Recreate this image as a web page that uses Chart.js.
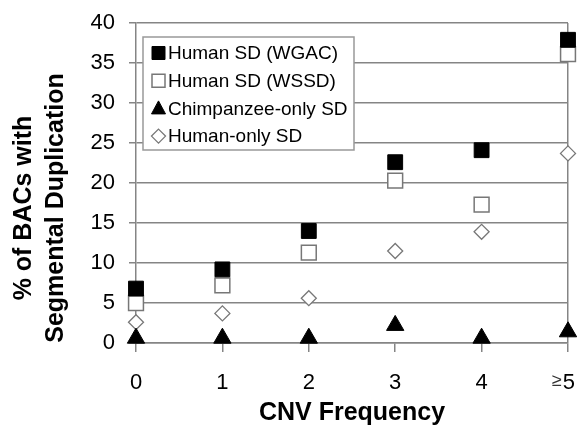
<!DOCTYPE html>
<html>
<head>
<meta charset="utf-8">
<script src="https://cdn.jsdelivr.net/npm/chart.js@4.4.0/dist/chart.umd.min.js"></script>
<style>
  html, body { margin: 0; padding: 0; background: #fff; overflow: hidden; }
  canvas { display: block; }
</style>
</head>
<body>
<canvas id="chart" width="577" height="429"></canvas>
<script>
// values
const categories = ['0', '1', '2', '3', '4', '\u22655'];
const wgac = [6.8, 9.2, 14.0, 22.6, 24.1, 37.9];
const wssd = [5.0, 7.2, 11.3, 20.3, 17.3, 36.1];
const chimpOnly = [0.6, 0.6, 0.6, 2.2, 0.6, 1.4];
const humanOnly = [2.6, 3.7, 5.6, 11.5, 13.9, 23.7];
const yTicks = [0, 5, 10, 15, 20, 25, 30, 35, 40];

const FONT = '"Liberation Sans", Arial, sans-serif';
const GRID = '#858585';

// Legend box drawn inside the plot area
const legendBox = {
    id: 'legendBox',
    afterDraw(chart) {
        const ctx = chart.ctx;
        const x0 = 143, y0 = 37, w = 211, h = 113;
        ctx.save();
        ctx.fillStyle = '#fff';
        ctx.strokeStyle = '#999';
        ctx.lineWidth = 1.5;
        ctx.fillRect(x0, y0, w, h);
        ctx.strokeRect(x0, y0, w, h);
        ctx.font = '19px ' + FONT;
        ctx.textBaseline = 'middle';
        ctx.fillStyle = '#000';
        chart.data.datasets.forEach((ds, i) => {
            const cy = 53 + i * 27.7;
            const cx = 158.5;
            ctx.beginPath();
            if (ds.pointStyle === 'rect') {
                ctx.rect(cx - 6.5, cy - 6.5, 13, 13);
            } else if (ds.pointStyle === 'triangle') {
                ctx.moveTo(cx, cy - 7.5);
                ctx.lineTo(cx + 7, cy + 5.5);
                ctx.lineTo(cx - 7, cy + 5.5);
                ctx.closePath();
            } else {
                ctx.moveTo(cx, cy - 7);
                ctx.lineTo(cx + 7, cy);
                ctx.lineTo(cx, cy + 7);
                ctx.lineTo(cx - 7, cy);
                ctx.closePath();
            }
            ctx.fillStyle = ds.backgroundColor;
            ctx.fill();
            ctx.lineWidth = ds.borderWidth;
            ctx.strokeStyle = ds.borderColor;
            ctx.stroke();
            ctx.fillStyle = '#000';
            ctx.fillText(ds.label, 168, cy + 1);
        });
        ctx.restore();
    }
};

// Two-line y axis title, centred a little below the plot middle as in the figure
const yTitle = {
    id: 'yTitle',
    afterDraw(chart) {
        const ctx = chart.ctx;
        ctx.save();
        ctx.font = 'bold 25px ' + FONT;
        ctx.fillStyle = '#000';
        ctx.textAlign = 'center';
        ctx.textBaseline = 'middle';
        [['% of BACs with', 24], ['Segmental Duplication', 56]].forEach(([txt, x]) => {
            ctx.save();
            ctx.translate(x, 208);
            ctx.rotate(-Math.PI / 2);
            ctx.fillText(txt, 0, 0);
            ctx.restore();
        });
        ctx.restore();
    }
};

// Last x label: small "≥" in front of a normal "5", kept inside the canvas
const lastLabel = {
    id: 'lastLabel',
    afterDraw(chart) {
        const ctx = chart.ctx;
        const txt = categories[categories.length - 1];
        const y = chart.scales.x.top + 40;
        ctx.save();
        ctx.fillStyle = '#000';
        ctx.textBaseline = 'middle';
        ctx.textAlign = 'right';
        ctx.font = '22px ' + FONT;
        const digit = txt.slice(1);
        ctx.fillText(digit, 575, y);
        const dw = ctx.measureText(digit).width;
        ctx.fillStyle = '#333';
        ctx.font = '18px ' + FONT;
        ctx.fillText(txt[0], 575 - dw - 1, y - 2);
        ctx.restore();
    }
};

new Chart(document.getElementById('chart'), {
    type: 'line',
    data: {
        labels: categories,
        datasets: [
            { label: 'Human SD (WGAC)', data: wgac, pointStyle: 'rect', pointRadius: 10.5,
              backgroundColor: '#000', borderColor: '#000', borderWidth: 1 },
            { label: 'Human SD (WSSD)', data: wssd, pointStyle: 'rect', pointRadius: 10.5,
              backgroundColor: '#fff', borderColor: '#777', borderWidth: 1.5 },
            { label: 'Chimpanzee-only SD', data: chimpOnly, pointStyle: 'triangle', pointRadius: 10,
              backgroundColor: '#000', borderColor: '#000', borderWidth: 1 },
            { label: 'Human-only SD', data: humanOnly, pointStyle: 'rectRot', pointRadius: 7.5,
              backgroundColor: '#fff', borderColor: '#777', borderWidth: 1.3 }
        ].map(ds => Object.assign(ds, { showLine: false, clip: false, pointHoverRadius: ds.pointRadius }))
    },
    options: {
        responsive: false,
        animation: false,
        layout: { autoPadding: false, padding: { top: 23, right: 9, left: 0, bottom: 0 } },
        plugins: { legend: { display: false }, tooltip: { enabled: false } },
        scales: {
            x: {
                type: 'category',
                offset: false,
                grid: {
                    offset: false,
                    color: c => c.index === categories.length - 1 ? GRID : 'rgba(0,0,0,0)',
                    tickColor: GRID,
                    lineWidth: 1.5,
                    tickLength: 9
                },
                border: { color: GRID, width: 1.5 },
                ticks: {
                    color: '#000', font: { family: FONT, size: 22 }, padding: 18, maxRotation: 0,
                    callback: (v, i) => i === categories.length - 1 ? '' : categories[i]
                },
                title: {
                    display: true, text: 'CNV Frequency', color: '#000',
                    font: { family: FONT, size: 25, weight: 'bold' }, padding: { top: 0, bottom: 1 }
                },
                afterFit: s => {
                    s.height = 86;
                    s.paddingLeft = 0;
                    s.paddingRight = 0;
                }
            },
            y: {
                min: 0, max: 40,
                afterBuildTicks: s => { s.ticks = yTicks.map(v => ({ value: v })); },
                grid: { color: GRID, lineWidth: 1.5, tickLength: 7 },
                border: { color: GRID, width: 1.5 },
                ticks: { color: '#000', font: { family: FONT, size: 22 }, padding: 14 },
                afterFit: s => {
                    s.width = 136;
                    s.paddingTop = 0;
                    s.paddingBottom = 0;
                }
            }
        }
    },
    plugins: [legendBox, yTitle, lastLabel]
});
</script>
</body>
</html>
